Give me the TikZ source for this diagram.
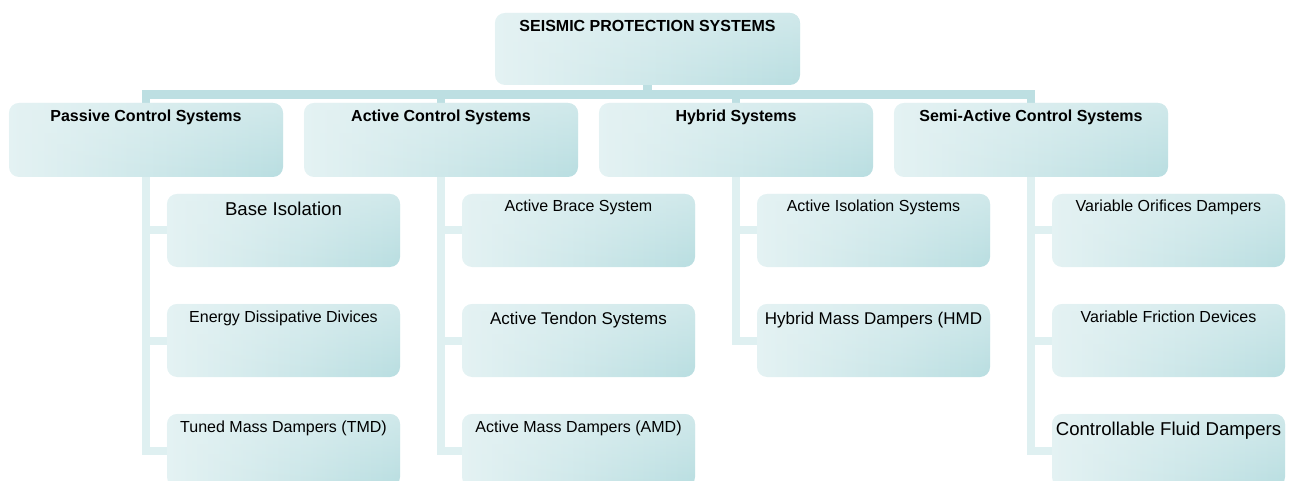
\documentclass[tikz,border=0pt]{standalone}
\usepackage{fontspec}
\setmainfont{Liberation Sans}
\usetikzlibrary{fadings,backgrounds}
\definecolor{boxL}{HTML}{E4F2F3}
\definecolor{boxM}{HTML}{D7EDEF}
\definecolor{boxR}{HTML}{B9DEE1}
\definecolor{barC}{HTML}{BDDFE2}
\definecolor{lineC}{HTML}{DFF0F1}
\tikzset{
  box/.style={rounded corners=10pt, inner sep=0pt, outer sep=0pt,
    left color=boxL, middle color=boxM, right color=boxR,
    postaction={fill=boxL, path fading=south, fill opacity=0.55}},
  topbox/.style={box, minimum width=305pt, minimum height=72pt},
  catbox/.style={box, minimum width=274pt, minimum height=74pt},
  leafbox/.style={box, minimum width=233pt, minimum height=73pt},
  txt/.style={inner sep=0pt, anchor=base, text=black},
  bold/.style={txt, font=\fontsize{16}{19}\selectfont\bfseries},
  reg/.style={txt, font=\fontsize{16}{19}\selectfont},
  mid/.style={txt, font=\fontsize{17}{20}\selectfont},
  big/.style={txt, font=\fontsize{18.6}{22}\selectfont},
  bar/.style={draw=barC, line width=8.5pt},
  sub/.style={draw=lineC, line width=8pt}
}
\begin{document}
\begin{tikzpicture}[x=1pt,y=-1pt]
\useasboundingbox (0,0) rectangle (1293,481);
\clip (0,0) rectangle (1293,481);
% boxes
\node[topbox] (top) at (647.5,49) {};
\node[catbox] (P) at (146,140) {};
\node[catbox] (A) at (441,140) {};
\node[catbox] (H) at (736,140) {};
\node[catbox] (S) at (1031,140) {};
\node[leafbox] (P1) at (283.5,230.5) {};
\node[leafbox] (P2) at (283.5,340.5) {};
\node[leafbox] (P3) at (283.5,450.5) {};
\node[leafbox] (A1) at (578.5,230.5) {};
\node[leafbox] (A2) at (578.5,340.5) {};
\node[leafbox] (A3) at (578.5,450.5) {};
\node[leafbox] (H1) at (873.5,230.5) {};
\node[leafbox] (H2) at (873.5,340.5) {};
\node[leafbox] (S1) at (1168.5,230.5) {};
\node[leafbox] (S2) at (1168.5,340.5) {};
\node[leafbox] (S3) at (1168.5,450.5) {};
% texts
\node[bold] (ttop) at ([yshift=-19pt]top.north) {SEISMIC PROTECTION SYSTEMS};
\node[bold] (tP) at ([yshift=-19pt]P.north) {Passive Control Systems};
\node[bold] (tA) at ([yshift=-19pt]A.north) {Active Control Systems};
\node[bold] (tH) at ([yshift=-19pt]H.north) {Hybrid Systems};
\node[bold] (tS) at ([yshift=-19pt]S.north) {Semi-Active Control Systems};
\node[big] (tP1) at ([yshift=-22pt]P1.north) {Base Isolation};
\node[reg] (tP2) at ([yshift=-18pt]P2.north) {Energy Dissipative Divices};
\node[reg] (tP3) at ([yshift=-18pt]P3.north) {Tuned Mass Dampers (TMD)};
\node[reg] (tA1) at ([yshift=-18pt]A1.north) {Active Brace System};
\node[mid] (tA2) at ([yshift=-20pt]A2.north) {Active Tendon Systems};
\node[reg] (tA3) at ([yshift=-18pt]A3.north) {Active Mass Dampers (AMD)};
\node[reg] (tH1) at ([yshift=-18pt]H1.north) {Active Isolation Systems};
\node[mid] (tH2) at ([yshift=-20pt]H2.north) {Hybrid Mass Dampers (HMD};
\node[reg] (tS1) at ([yshift=-18pt]S1.north) {Variable Orifices Dampers};
\node[reg] (tS2) at ([yshift=-18pt]S2.north) {Variable Friction Devices};
\node[big] (tS3) at ([yshift=-21pt]S3.north) {Controllable Fluid Dampers};
% connectors behind the boxes
\begin{scope}[on background layer]
  \foreach \c/\k in {P/P1,P/P2,P/P3,A/A1,A/A2,A/A3,H/H1,H/H2,S/S1,S/S2,S/S3}
    \draw[sub] (\c.center) |- (\k.west);
  \foreach \c in {P,A,H,S}
    \draw[bar] (top.center) -- ([yshift=-9.5pt]top.south) -| (\c.north);
\end{scope}
\end{tikzpicture}
\end{document}
